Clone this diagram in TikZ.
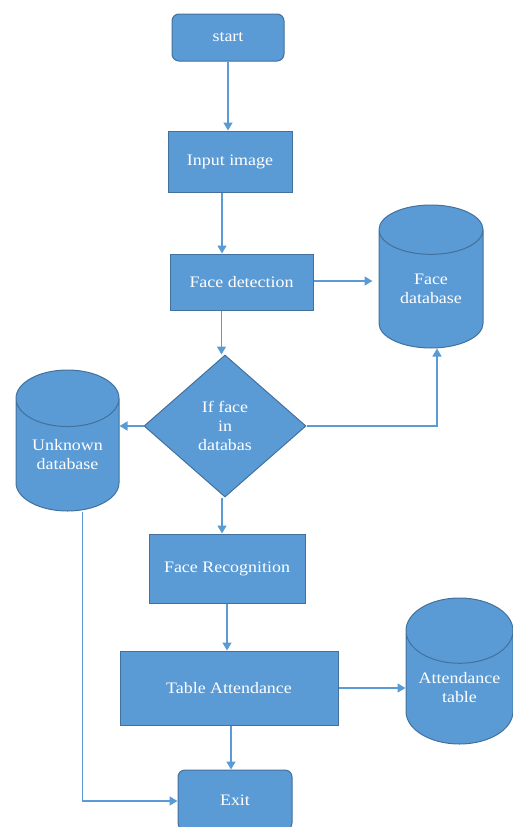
\documentclass[tikz,border=0pt]{standalone}
\usepackage{fontspec}
\setmainfont{Liberation Serif}[FakeStretch=1.12]
\usetikzlibrary{shapes.geometric,arrows.meta,calc}

\definecolor{caixa}{HTML}{5B9BD5}
\definecolor{borda}{HTML}{41719C}
\definecolor{seta}{HTML}{5B9BD5}

\begin{document}
\begin{tikzpicture}[
		x=1pt, y=-1pt,
		retangulos/.style={
			draw=borda,
			fill=caixa,
			rectangle,
			align=center,
			text=white,
			line width=1pt,
			font=\fontsize{16}{19}\selectfont
		},
		arredondado/.style={
			retangulos,
			rounded corners=7pt
		},
		losango/.style={
			retangulos,
			diamond,
			inner sep=0pt
		},
		banco/.style={
			retangulos,
			cylinder,
			shape border rotate=90,
			aspect=0.8,
			inner sep=0pt,
			anchor=shape center
		},
		linha/.style={
			draw=seta,
			line width=1.5pt,
			-{Triangle[width=9pt,length=8pt]}
		}
		]
		\useasboundingbox (0,0) rectangle (513,827);
		
		\node[arredondado, minimum width=112pt, minimum height=47pt] (start) at (228,37.5) {start};
		\node[retangulos, minimum width=124pt, minimum height=61pt] (input) at (230,161.5) {Input image};
		\node[retangulos, minimum width=143pt, minimum height=56pt] (detect) at (241.5,282) {Face detection};
		\node[banco, minimum width=104pt, minimum height=143pt] (facedb) at (431,276.5) {Face\\database};
		\node[losango, minimum width=162pt, minimum height=142pt] (check) at (225,426) {If face\\in\\databas};
		\node[banco, minimum width=103pt, minimum height=141pt] (unknown) at (67.5,440.5) {Unknown\\database};
		\node[retangulos, minimum width=156pt, minimum height=69pt] (recog) at (227,568.5) {Face Recognition};
		\node[retangulos, minimum width=218pt, minimum height=74pt] (table) at (229,688) {Table Attendance};
		\node[banco, minimum width=107pt, minimum height=146pt] (attdb) at (459.5,671) {Attendance\\table};
		\node[arredondado, minimum width=114pt, minimum height=60pt] (exit) at (235,800) {Exit};
		
		%Linhas
		\draw[linha] (start.south) -- (start.south |- input.north);
		\draw[linha] ([xshift=-8pt]input.south) -- ([xshift=-8pt]input.south |- detect.north);
		\draw[linha, shorten >=6pt] ([yshift=1pt]detect.east) -- ([yshift=1pt]detect.east -| facedb.west);
		\draw[linha] ([xshift=-20pt]detect.south) -- ([xshift=-20pt]detect.south |- check.north);
		\draw[linha] (check.east) -| ([xshift=6pt]facedb.south);
		\draw[linha] (check.west) -- (check.west -| unknown.east);
		\draw[linha] ([xshift=15pt]unknown.south) |- ([yshift=-1pt]exit.west);
		\draw[linha] ([xshift=-3pt]check.south) -- ([xshift=-3pt]check.south |- recog.north);
		\draw[linha] (recog.south) -- (recog.south |- table.north);
		\draw[linha] (table.east) -- (table.east -| attdb.west);
		\draw[linha] ([xshift=2pt]table.south) -- ([xshift=2pt]table.south |- exit.north);
		
	\end{tikzpicture}
\end{document}
